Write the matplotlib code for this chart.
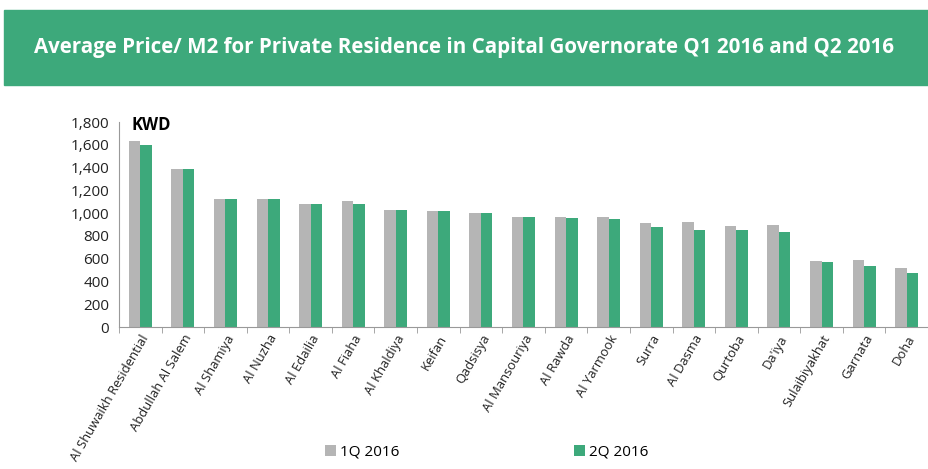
import numpy as np
import matplotlib
matplotlib.use("Agg")
import matplotlib.pyplot as plt
from matplotlib.patches import Rectangle

areas = ["Al Shuwaikh Residential", "Abdullah Al Salem", "Al Shamiya", "Al Nuzha",
         "Al Edailia", "Al Fiaha", "Al Khaldiya", "Keifan", "Qadsisya",
         "Al Mansouriya", "Al Rawda", "Al Yarmook", "Surra", "Al Dasma",
         "Qurtoba", "Da'iya", "Sulaibiyakhat", "Garnata", "Doha"]
q1_2016 = [1630, 1390, 1125, 1120, 1078, 1108, 1030, 1020, 1005,
           970, 970, 970, 910, 920, 885, 893, 578, 592, 515]
q2_2016 = [1600, 1385, 1125, 1120, 1078, 1080, 1030, 1020, 997,
           965, 956, 947, 880, 853, 853, 838, 570, 540, 472]

GREEN = "#3DA97B"
GREY = "#B5B5B5"
plt.rcParams["font.family"] = ["Open Sans", "DejaVu Sans"]

fig = plt.figure(figsize=(9.29, 4.69), dpi=100)
ax = fig.add_axes([119 / 929, 1 - 327 / 469, (928 - 119) / 929, (327 - 122) / 469])

x = np.arange(len(areas))
w = 0.27
ax.bar(x - w / 2, q1_2016, w, color=GREY, label="1Q 2016")
ax.bar(x + w / 2, q2_2016, w, color=GREEN, label="2Q 2016")

ax.set_xlim(-0.5, len(areas) - 0.5)
ax.set_ylim(0, 1800)
ax.set_yticks(range(0, 1801, 200))
ax.set_yticklabels([f"{v:,}" for v in range(0, 1801, 200)], fontsize=11, color="#222222")
ax.set_xticks(x)
ax.set_xticklabels(areas, rotation=60, ha="right", rotation_mode="anchor", fontsize=9.4, color="#222222")
ax.set_xticks(np.arange(-0.5, len(areas), 1), minor=True)
ax.tick_params(axis="x", which="major", length=0, pad=4)
ax.tick_params(axis="x", which="minor", length=4, color="#999999")
ax.tick_params(axis="y", length=0, pad=7)
for s in ["top", "right"]:
    ax.spines[s].set_visible(False)
for s in ["left", "bottom"]:
    ax.spines[s].set_color("#999999")

ax.text(-0.2, 1775, "KWD", fontsize=12, fontweight="bold", va="center", ha="left")

# title banner
fig.patches.append(Rectangle((4 / 929, 1 - 85 / 469), 925 / 929, 75 / 469,
                             transform=fig.transFigure, color=GREEN, zorder=0))
fig.text(0.5, 1 - 47 / 469,
         "Average Price/ M2 for Private Residence in Capital Governorate Q1 2016 and Q2 2016",
         color="white", fontsize=14.8, fontweight="bold", ha="center", va="center",
         family=["Open Sans", "DejaVu Sans"])

# legend
fig.legend(loc="center", bbox_to_anchor=(0.524, 1 - 452 / 469), ncol=2, frameon=False,
           fontsize=11, handlelength=0.7, handleheight=0.7, handletextpad=0.3,
           columnspacing=11.4)

fig.savefig("out.png", dpi=100)
